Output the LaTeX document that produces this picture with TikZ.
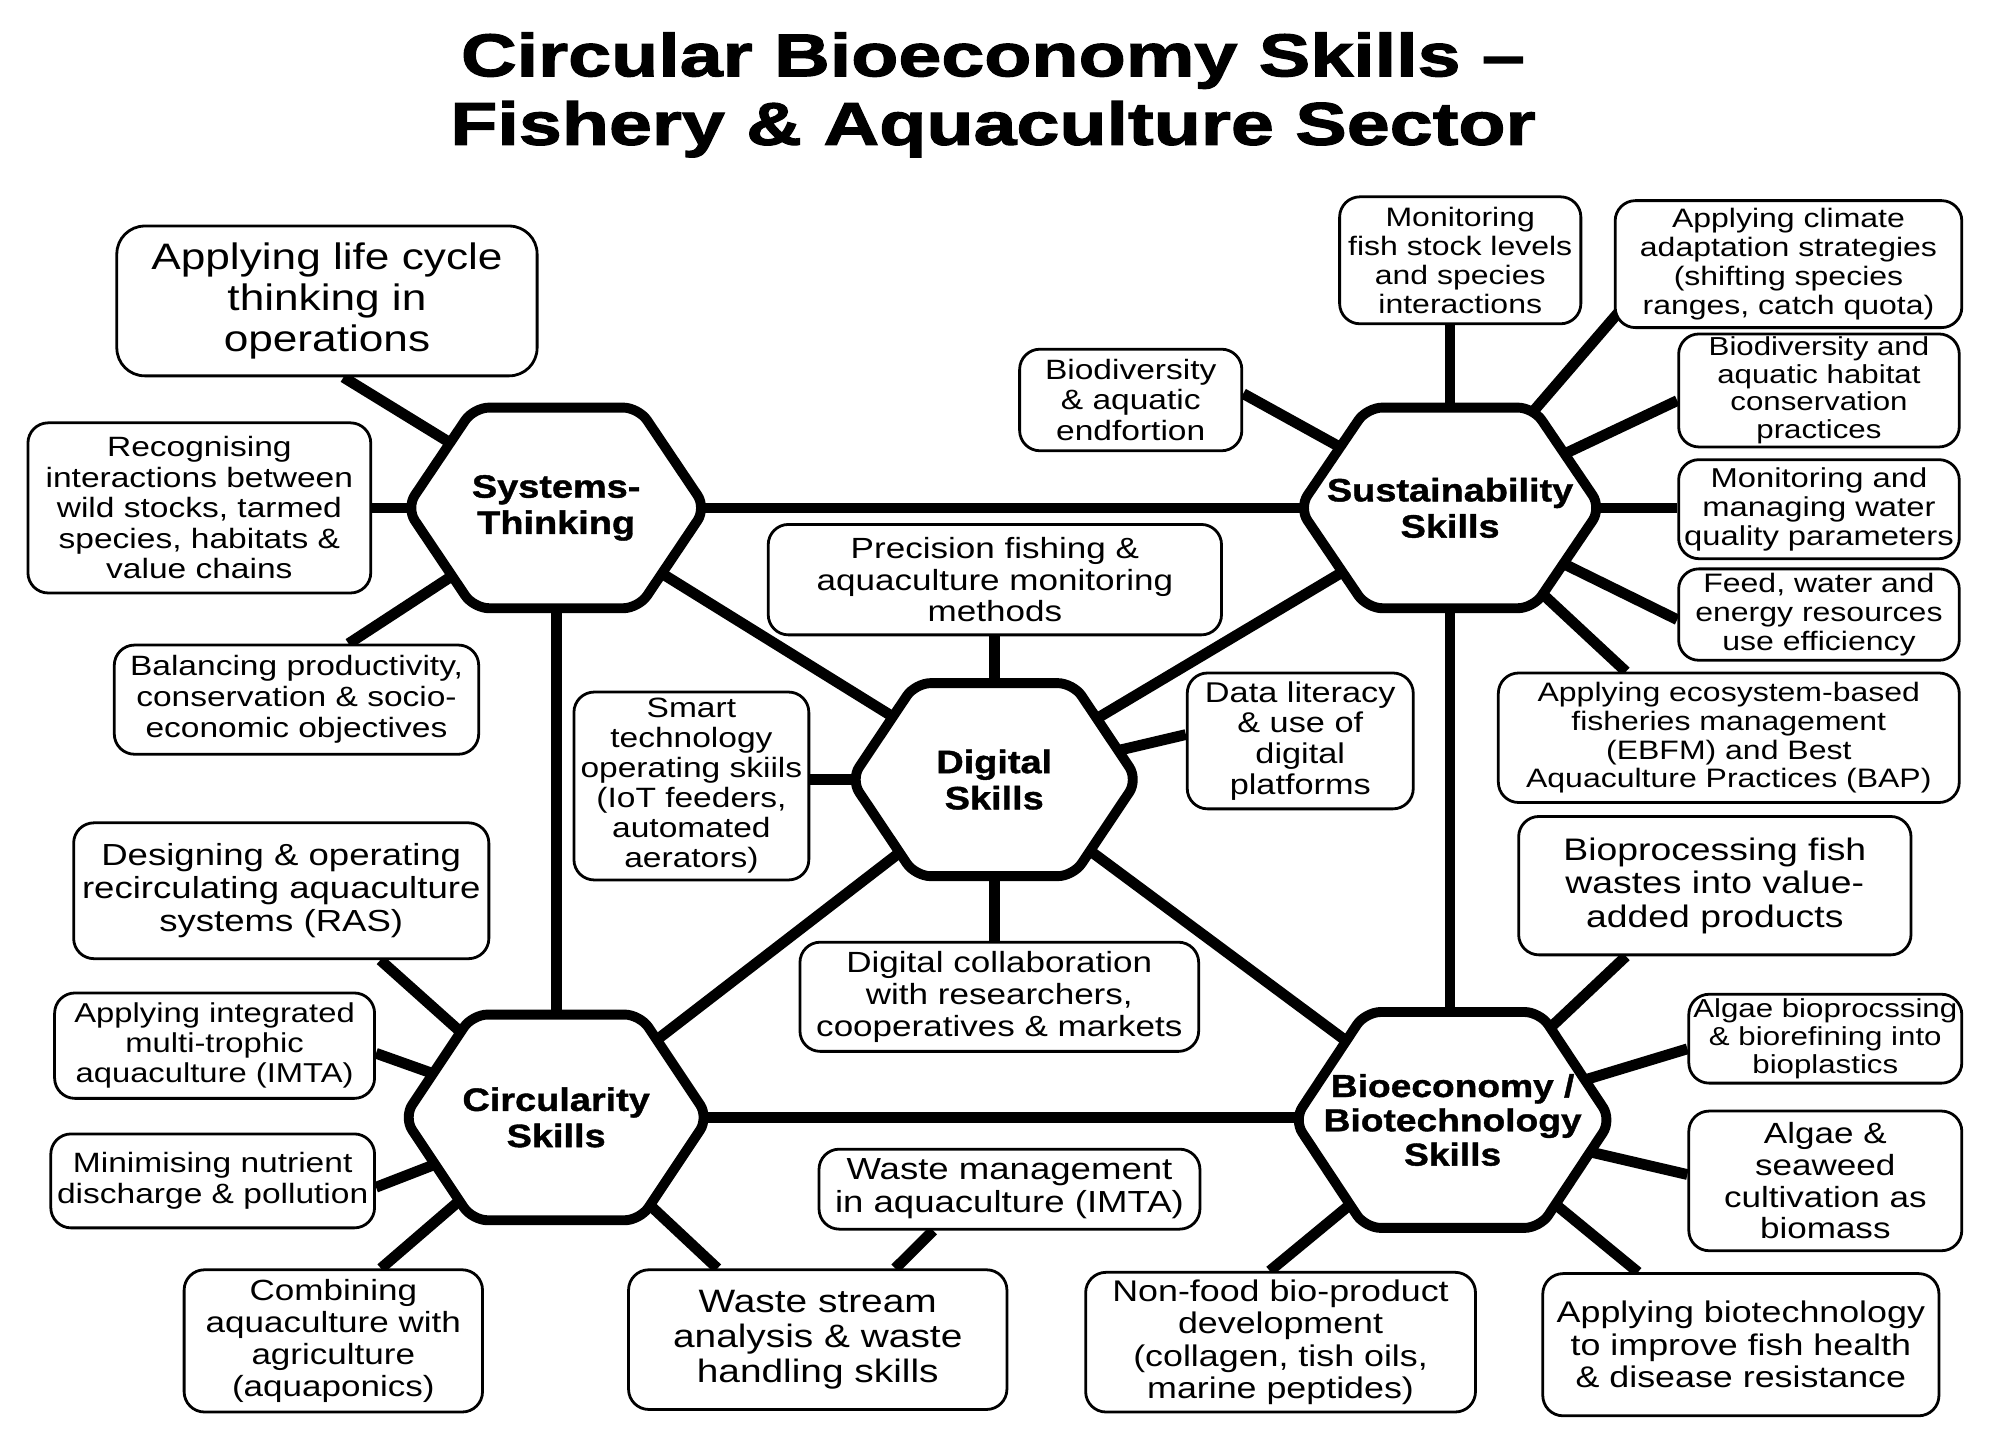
\documentclass[tikz,border=0pt]{standalone}
\usepackage{fontspec}
\setmainfont{Liberation Sans}
\newfontfamily\boxfont{Liberation Sans}[FakeStretch=1.2]
\newfontfamily\hexfont{Liberation Sans}[FakeStretch=1.17, FakeBold=1.2]
\newfontfamily\titlefont{Liberation Sans}[FakeStretch=1.28, FakeBold=2]
\usetikzlibrary{calc,backgrounds}
\tikzset{
  box/.style={draw, line width=2.2pt, fill=white, rounded corners=16pt, align=center, inner sep=2pt},
  fs/.style 2 args={font=\boxfont\fontsize{#1}{#2}\selectfont},
  hexline/.style={draw, line width=7.8pt, fill=white, rounded corners=12pt, line join=round},
  hexlbl/.style={align=center, font=\hexfont\bfseries\fontsize{25.5}{28.5}\selectfont},
  link/.style={line width=8.5pt},
  ttl/.style={font=\titlefont\bfseries\fontsize{47.5}{54}\selectfont, anchor=base},
}
\newcommand\myhex[5]{%
  \path[hexline, shift={(#2,#3)}] (0,-#5) -- (0.55*#4,-#5) -- (#4,0) -- (0.55*#4,#5)
     -- (-0.55*#4,#5) -- (-#4,0) -- (-0.55*#4,-#5) -- cycle;
  \coordinate (#1) at (#2,#3);}
\begin{document}
\begin{tikzpicture}[x=1pt,y=-1pt]
\useasboundingbox (0,0) rectangle (1568,1138);

% title
\node[ttl] (t1) at (782,60) {Circular Bioeconomy Skills –};
\node[ttl] (t2) at (782,114) {Fishery \& Aquaculture Sector};

% hexagons
\myhex{sth}{438}{400}{118}{79}
\myhex{suh}{1142}{400}{119}{79}
\myhex{dih}{783}{614}{113}{76}
\myhex{cih}{438}{880}{120}{81}
\myhex{bih}{1144}{882}{125}{85}
\node[hexlbl] (st) at (sth) {Systems-\\Thinking};
\node[hexlbl] (su) at (suh) {Sustainability\\Skills};
\node[hexlbl] (di) at (dih) {Digital\\Skills};
\node[hexlbl] (ci) at (cih) {Circularity\\Skills};
\node[hexlbl, font=\hexfont\bfseries\fontsize{25}{27}\selectfont] (bi) at (bih) {Bioeconomy /\\Biotechnology\\Skills};

% boxes: Systems-Thinking
\node[box, fs={29}{32}, rounded corners=22pt, minimum width=331pt, minimum height=118pt] (life) at (257.5,237) {Applying life cycle\\thinking in\\operations};
\node[box, fs={22}{24}, minimum width=270pt, minimum height=134pt] (recog) at (157,400) {Recognising\\interactions between\\wild stocks, tarmed\\species, habitats \&\\value chains};
\node[box, fs={22}{24.5}, minimum width=287pt, minimum height=86pt] (bal) at (233.5,551) {Balancing productivity,\\conservation \& socio-\\economic objectives};

% Sustainability
\node[box, fs={22}{24}, minimum width=175pt, minimum height=80pt] (biodiv) at (890.5,315) {Biodiversity\\\& aquatic\\endfortion};
\node[box, fs={21}{22.7}, minimum width=190pt, minimum height=100pt] (monfish) at (1150,205) {Monitoring\\fish stock levels\\and species\\interactions};
\node[box, fs={21}{22.7}, minimum width=273pt, minimum height=100pt] (climate) at (1408.5,208) {Applying climate\\adaptation strategies\\(shifting species\\ranges, catch quota)};
\node[box, fs={20.5}{21.7}, minimum width=221pt, minimum height=89pt] (biohab) at (1432.5,307.5) {Biodiversity and\\aquatic habitat\\conservation\\practices};
\node[box, fs={21.5}{23}, minimum width=221pt, minimum height=78pt] (water) at (1432.5,401) {Monitoring and\\managing water\\quality parameters};
\node[box, fs={21}{22.5}, minimum width=221pt, minimum height=72pt] (feed) at (1432.5,484) {Feed, water and\\energy resources\\use efficiency};
\node[box, fs={21}{22.7}, minimum width=363pt, minimum height=102pt] (ebfm) at (1361.5,581) {Applying ecosystem-based\\fisheries management\\(EBFM) and Best\\Aquaculture Practices (BAP)};

% Digital
\node[box, fs={23}{25}, minimum width=357pt, minimum height=87pt] (prec) at (783.5,456.5) {Precision fishing \&\\aquaculture monitoring\\methods};
\node[box, fs={22}{23.6}, minimum width=185pt, minimum height=148pt] (smart) at (544.5,619) {Smart\\technology\\operating skiils\\(IoT feeders,\\automated\\aerators)};
\node[box, fs={22.5}{24.3}, minimum width=178pt, minimum height=107pt] (datalit) at (1024,583.5) {Data literacy\\\& use of\\digital\\platforms};
\node[box, fs={23}{25}, minimum width=314pt, minimum height=86pt] (collab) at (787,785) {Digital collaboration\\with researchers,\\cooperatives \& markets};

% Circularity
\node[box, fs={24}{26}, minimum width=327pt, minimum height=107pt] (ras) at (221.5,701.5) {Designing \& operating\\recirculating aquaculture\\systems (RAS)};
\node[box, fs={21.5}{23.5}, minimum width=252pt, minimum height=83pt] (imta) at (169,823.5) {Applying integrated\\multi-trophic\\aquaculture (IMTA)};
\node[box, fs={22}{24}, minimum width=255pt, minimum height=74pt] (minim) at (167.5,930) {Minimising nutrient\\discharge \& pollution};
\node[box, fs={23}{25}, minimum width=235pt, minimum height=112pt] (comb) at (262.5,1056) {Combining\\aquaculture with\\agriculture\\(aquaponics)};
\node[box, fs={25.5}{27.5}, minimum width=298pt, minimum height=110pt] (wstream) at (644,1055) {Waste stream\\analysis \& waste\\handling skills};
\node[box, fs={24}{26}, minimum width=300pt, minimum height=63pt] (wmgmt) at (795,936.5) {Waste management\\in aquaculture (IMTA)};

% Bioeconomy
\node[box, fs={24.5}{26.5}, minimum width=309pt, minimum height=109pt] (bioproc) at (1350.5,697.5) {Bioprocessing fish\\wastes into value-\\added products};
\node[box, fs={20.5}{22}, minimum width=215pt, minimum height=70pt] (algaebio) at (1437.5,818) {Algae bioprocssing\\\& biorefining into\\bioplastics};
\node[box, fs={23}{25}, minimum width=215pt, minimum height=110pt] (seaweed) at (1437.5,930) {Algae \&\\seaweed\\cultivation as\\biomass};
\node[box, fs={23.5}{25.5}, minimum width=312pt, minimum height=112pt] (biotech) at (1371,1059) {Applying biotechnology\\to improve fish health\\\& disease resistance};
\node[box, fs={23.5}{25.5}, minimum width=307pt, minimum height=110pt] (nonfood) at (1008.5,1057) {Non-food bio-product\\development\\(collagen, tish oils,\\marine peptides)};

% connectors
\begin{scope}[on background layer]
\fill[white] (0,0) rectangle (1568,1138);
\draw[link] (sth) -- (suh);
\draw[link] (sth) -- (cih);
\draw[link] (suh) -- (suh |- bih);
\draw[link] (cih) -- (cih -| bih);
\draw[link] (dih) -- (sth);
\draw[link] (dih) -- (suh);
\draw[link] (dih) -- (cih);
\draw[link] (dih) -- (bih);
% systems
\draw[link] (sth) -- ($(life.south)+(13,0)$);
\draw[link] (sth) -- (sth -| recog.east);
\draw[link] (sth) -- ($(bal.north)+(41,0)$);
% sustainability
\draw[link] (suh) -- ($(biodiv.east)+(0,-5)$);
\draw[link] (suh) -- (suh |- monfish.south);
\draw[link] (suh) -- ($(climate.south west)+(8,-18)$);
\draw[link] (suh) -- ($(biohab.west)+(0,8)$);
\draw[link] (suh) -- (suh -| water.west);
\draw[link] (suh) -- ($(feed.west)+(0,4)$);
\draw[link] (suh) -- ($(ebfm.north)+(-81,0)$);
% digital
\draw[link] (dih) -- (dih |- prec.south);
\draw[link] (dih) -- (dih -| smart.east);
\draw[link] (dih) -- ($(datalit.west)+(0,-5)$);
\draw[link] (dih) -- (dih |- collab.north);
% circularity
\draw[link] (cih) -- ($(ras.south)+(78,0)$);
\draw[link] (cih) -- ($(imta.east)+(0,6)$);
\draw[link] (cih) -- ($(minim.east)+(0,5)$);
\draw[link] (cih) -- ($(comb.north)+(37.5,0)$);
\draw[link] (cih) -- ($(wstream.north)+(-79,0)$);
\draw[link] ($(wmgmt.south)+(-60,0)$) -- ($(wstream.north)+(61,0)$);
% bioeconomy
\draw[link] (bih) -- ($(bioproc.south)+(-70,0)$);
\draw[link] (bih) -- ($(algaebio.west)+(0,8)$);
\draw[link] (bih) -- ($(seaweed.west)+(0,-5)$);
\draw[link] (bih) -- ($(biotech.north)+(-81,0)$);
\draw[link] (bih) -- ($(nonfood.north)+(-8.5,0)$);
\end{scope}
\end{tikzpicture}
\end{document}
